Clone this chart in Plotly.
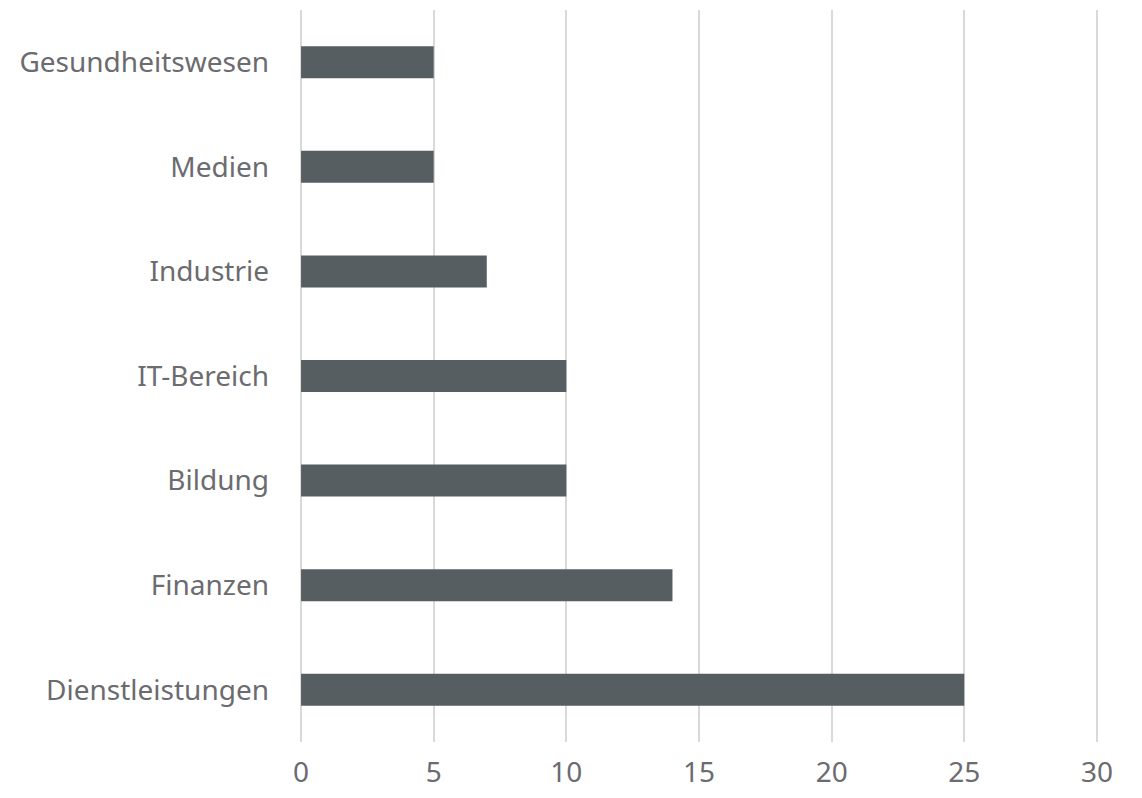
import plotly.graph_objects as go

categories = ["Dienstleistungen", "Finanzen", "Bildung", "IT-Bereich", "Industrie", "Medien", "Gesundheitswesen"]
values = [25, 14, 10, 10, 7, 5, 5]
x_ticks = [0, 5, 10, 15, 20, 25, 30]

fig = go.Figure(go.Bar(
    y=categories, x=values, orientation="h",
    marker=dict(color="#565e62", line=dict(width=0)),
))
fig.update_layout(
    width=1142, height=798,
    margin=dict(l=300, r=44, t=10, b=56),
    paper_bgcolor="white", plot_bgcolor="white",
    bargap=0.694,
    showlegend=False,
    font=dict(family="Noto Sans", size=28, color="#6b6b70"),
)
fig.update_xaxes(range=[-0.04, 30.04], tickvals=x_ticks, showgrid=True, gridcolor="#d9d9d9", gridwidth=2,
                 zeroline=False, showline=False, ticklabelstandoff=11, fixedrange=True, automargin=False)
fig.update_yaxes(categoryorder="array", categoryarray=categories, showgrid=False, zeroline=False,
                 showline=False, ticklabelstandoff=30, fixedrange=True, automargin=False)
fig.write_html("out.html")
